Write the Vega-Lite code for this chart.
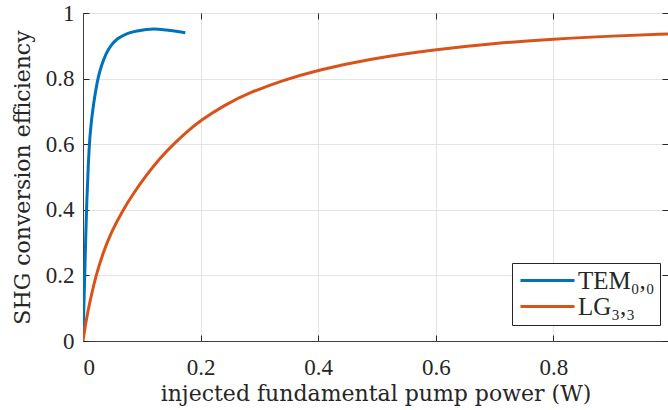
{
  "$schema": "https://vega.github.io/schema/vega-lite/v6.json",
  "width": 585,
  "height": 328,
  "autosize": {"type": "none"},
  "padding": {"left": 83, "top": 13, "right": 0, "bottom": 69},
  "background": "white",
  "data": {
    "values": [
      {"mode": "TEM₀,₀", "P": 0.0004, "eta": 0.035},
      {"mode": "TEM₀,₀", "P": 0.0015, "eta": 0.11},
      {"mode": "TEM₀,₀", "P": 0.003, "eta": 0.2},
      {"mode": "TEM₀,₀", "P": 0.0045, "eta": 0.31},
      {"mode": "TEM₀,₀", "P": 0.0065, "eta": 0.43},
      {"mode": "TEM₀,₀", "P": 0.009, "eta": 0.54},
      {"mode": "TEM₀,₀", "P": 0.0122, "eta": 0.643},
      {"mode": "TEM₀,₀", "P": 0.018, "eta": 0.725},
      {"mode": "TEM₀,₀", "P": 0.025, "eta": 0.8},
      {"mode": "TEM₀,₀", "P": 0.031, "eta": 0.838},
      {"mode": "TEM₀,₀", "P": 0.039, "eta": 0.877},
      {"mode": "TEM₀,₀", "P": 0.048, "eta": 0.903},
      {"mode": "TEM₀,₀", "P": 0.059, "eta": 0.923},
      {"mode": "TEM₀,₀", "P": 0.07, "eta": 0.934},
      {"mode": "TEM₀,₀", "P": 0.085, "eta": 0.943},
      {"mode": "TEM₀,₀", "P": 0.1, "eta": 0.948},
      {"mode": "TEM₀,₀", "P": 0.114, "eta": 0.951},
      {"mode": "TEM₀,₀", "P": 0.128, "eta": 0.951},
      {"mode": "TEM₀,₀", "P": 0.142, "eta": 0.948},
      {"mode": "TEM₀,₀", "P": 0.158, "eta": 0.945},
      {"mode": "TEM₀,₀", "P": 0.174, "eta": 0.94},
      {"mode": "LG₃,₃", "P": 0.0, "eta": 0.0},
      {"mode": "LG₃,₃", "P": 0.004, "eta": 0.048},
      {"mode": "LG₃,₃", "P": 0.0085, "eta": 0.092},
      {"mode": "LG₃,₃", "P": 0.0145, "eta": 0.142},
      {"mode": "LG₃,₃", "P": 0.0221, "eta": 0.2},
      {"mode": "LG₃,₃", "P": 0.034, "eta": 0.268},
      {"mode": "LG₃,₃", "P": 0.048, "eta": 0.332},
      {"mode": "LG₃,₃", "P": 0.0681, "eta": 0.4},
      {"mode": "LG₃,₃", "P": 0.085, "eta": 0.448},
      {"mode": "LG₃,₃", "P": 0.108, "eta": 0.506},
      {"mode": "LG₃,₃", "P": 0.13, "eta": 0.556},
      {"mode": "LG₃,₃", "P": 0.156, "eta": 0.604},
      {"mode": "LG₃,₃", "P": 0.18, "eta": 0.643},
      {"mode": "LG₃,₃", "P": 0.2, "eta": 0.672},
      {"mode": "LG₃,₃", "P": 0.24, "eta": 0.719},
      {"mode": "LG₃,₃", "P": 0.284, "eta": 0.758},
      {"mode": "LG₃,₃", "P": 0.34, "eta": 0.795},
      {"mode": "LG₃,₃", "P": 0.4, "eta": 0.826},
      {"mode": "LG₃,₃", "P": 0.483, "eta": 0.859},
      {"mode": "LG₃,₃", "P": 0.6, "eta": 0.889},
      {"mode": "LG₃,₃", "P": 0.703, "eta": 0.908},
      {"mode": "LG₃,₃", "P": 0.8, "eta": 0.921},
      {"mode": "LG₃,₃", "P": 0.902, "eta": 0.93},
      {"mode": "LG₃,₃", "P": 0.995, "eta": 0.936}
    ]
  },
  "layer": [
    {
      "mark": {"type": "line", "strokeWidth": 3, "interpolate": "basis", "clip": true},
      "encoding": {
        "x": {
          "field": "P", "type": "quantitative",
          "scale": {"domain": [0, 0.995], "nice": false, "zero": false},
          "axis": {"orient": "bottom", "values": [0, 0.2, 0.4, 0.6, 0.8], "format": "~g", "title": "injected fundamental pump power (W)", "labelPadding": 21, "titlePadding": 4}
        },
        "y": {
          "field": "eta", "type": "quantitative",
          "scale": {"domain": [0, 1], "nice": false},
          "axis": {"orient": "left", "values": [0, 0.2, 0.4, 0.6, 0.8, 1], "format": "~g", "title": "SHG conversion efficiency", "labelPadding": 15, "titlePadding": 11}
        },
        "color": {
          "field": "mode", "type": "nominal",
          "scale": {"domain": ["TEM₀,₀", "LG₃,₃"], "range": ["#0072BD", "#D95319"]},
          "legend": {
            "orient": "none", "legendX": 429, "legendY": 250,
            "title": null, "symbolType": "M-3,0H3", "symbolSize": 324, "symbolStrokeWidth": 3, "symbolOffset": 18,
            "labelFontSize": 25, "labelFont": "Liberation Serif", "labelColor": "#262626", "labelOffset": 18,
            "strokeColor": "#262626", "fillColor": "white", "padding": 5, "rowPadding": 0,
            "cornerRadius": 0
          }
        }
      }
    },
    {
      "mark": {"type": "line", "opacity": 0},
      "encoding": {
        "x": {"field": "P", "type": "quantitative", "axis": {"orient": "top", "values": [0, 0.2, 0.4, 0.6, 0.8], "labels": false, "title": null, "grid": false, "domain": false}},
        "y": {"field": "eta", "type": "quantitative", "axis": {"orient": "right", "values": [0, 0.2, 0.4, 0.6, 0.8, 1], "labels": false, "title": null, "grid": false, "domain": false}},
        "detail": {"field": "mode"}
      }
    }
  ],
  "resolve": {"axis": {"x": "independent", "y": "independent"}},
  "config": {
    "font": "Liberation Serif",
    "view": {"stroke": "#404040", "strokeWidth": 1},
    "axis": {
      "domainColor": "#404040",
      "domainWidth": 1,
      "tickColor": "#262626",
      "tickSize": -6,
      "tickWidth": 1,
      "gridColor": "#e3e3e3",
      "gridWidth": 1,
      "labelFont": "Liberation Serif",
      "labelFontSize": 23,
      "labelColor": "#262626",
      "titleFont": "DejaVu Serif",
      "titleFontSize": 22,
      "titleFontWeight": "normal",
      "titleColor": "#262626"
    }
  }
}
